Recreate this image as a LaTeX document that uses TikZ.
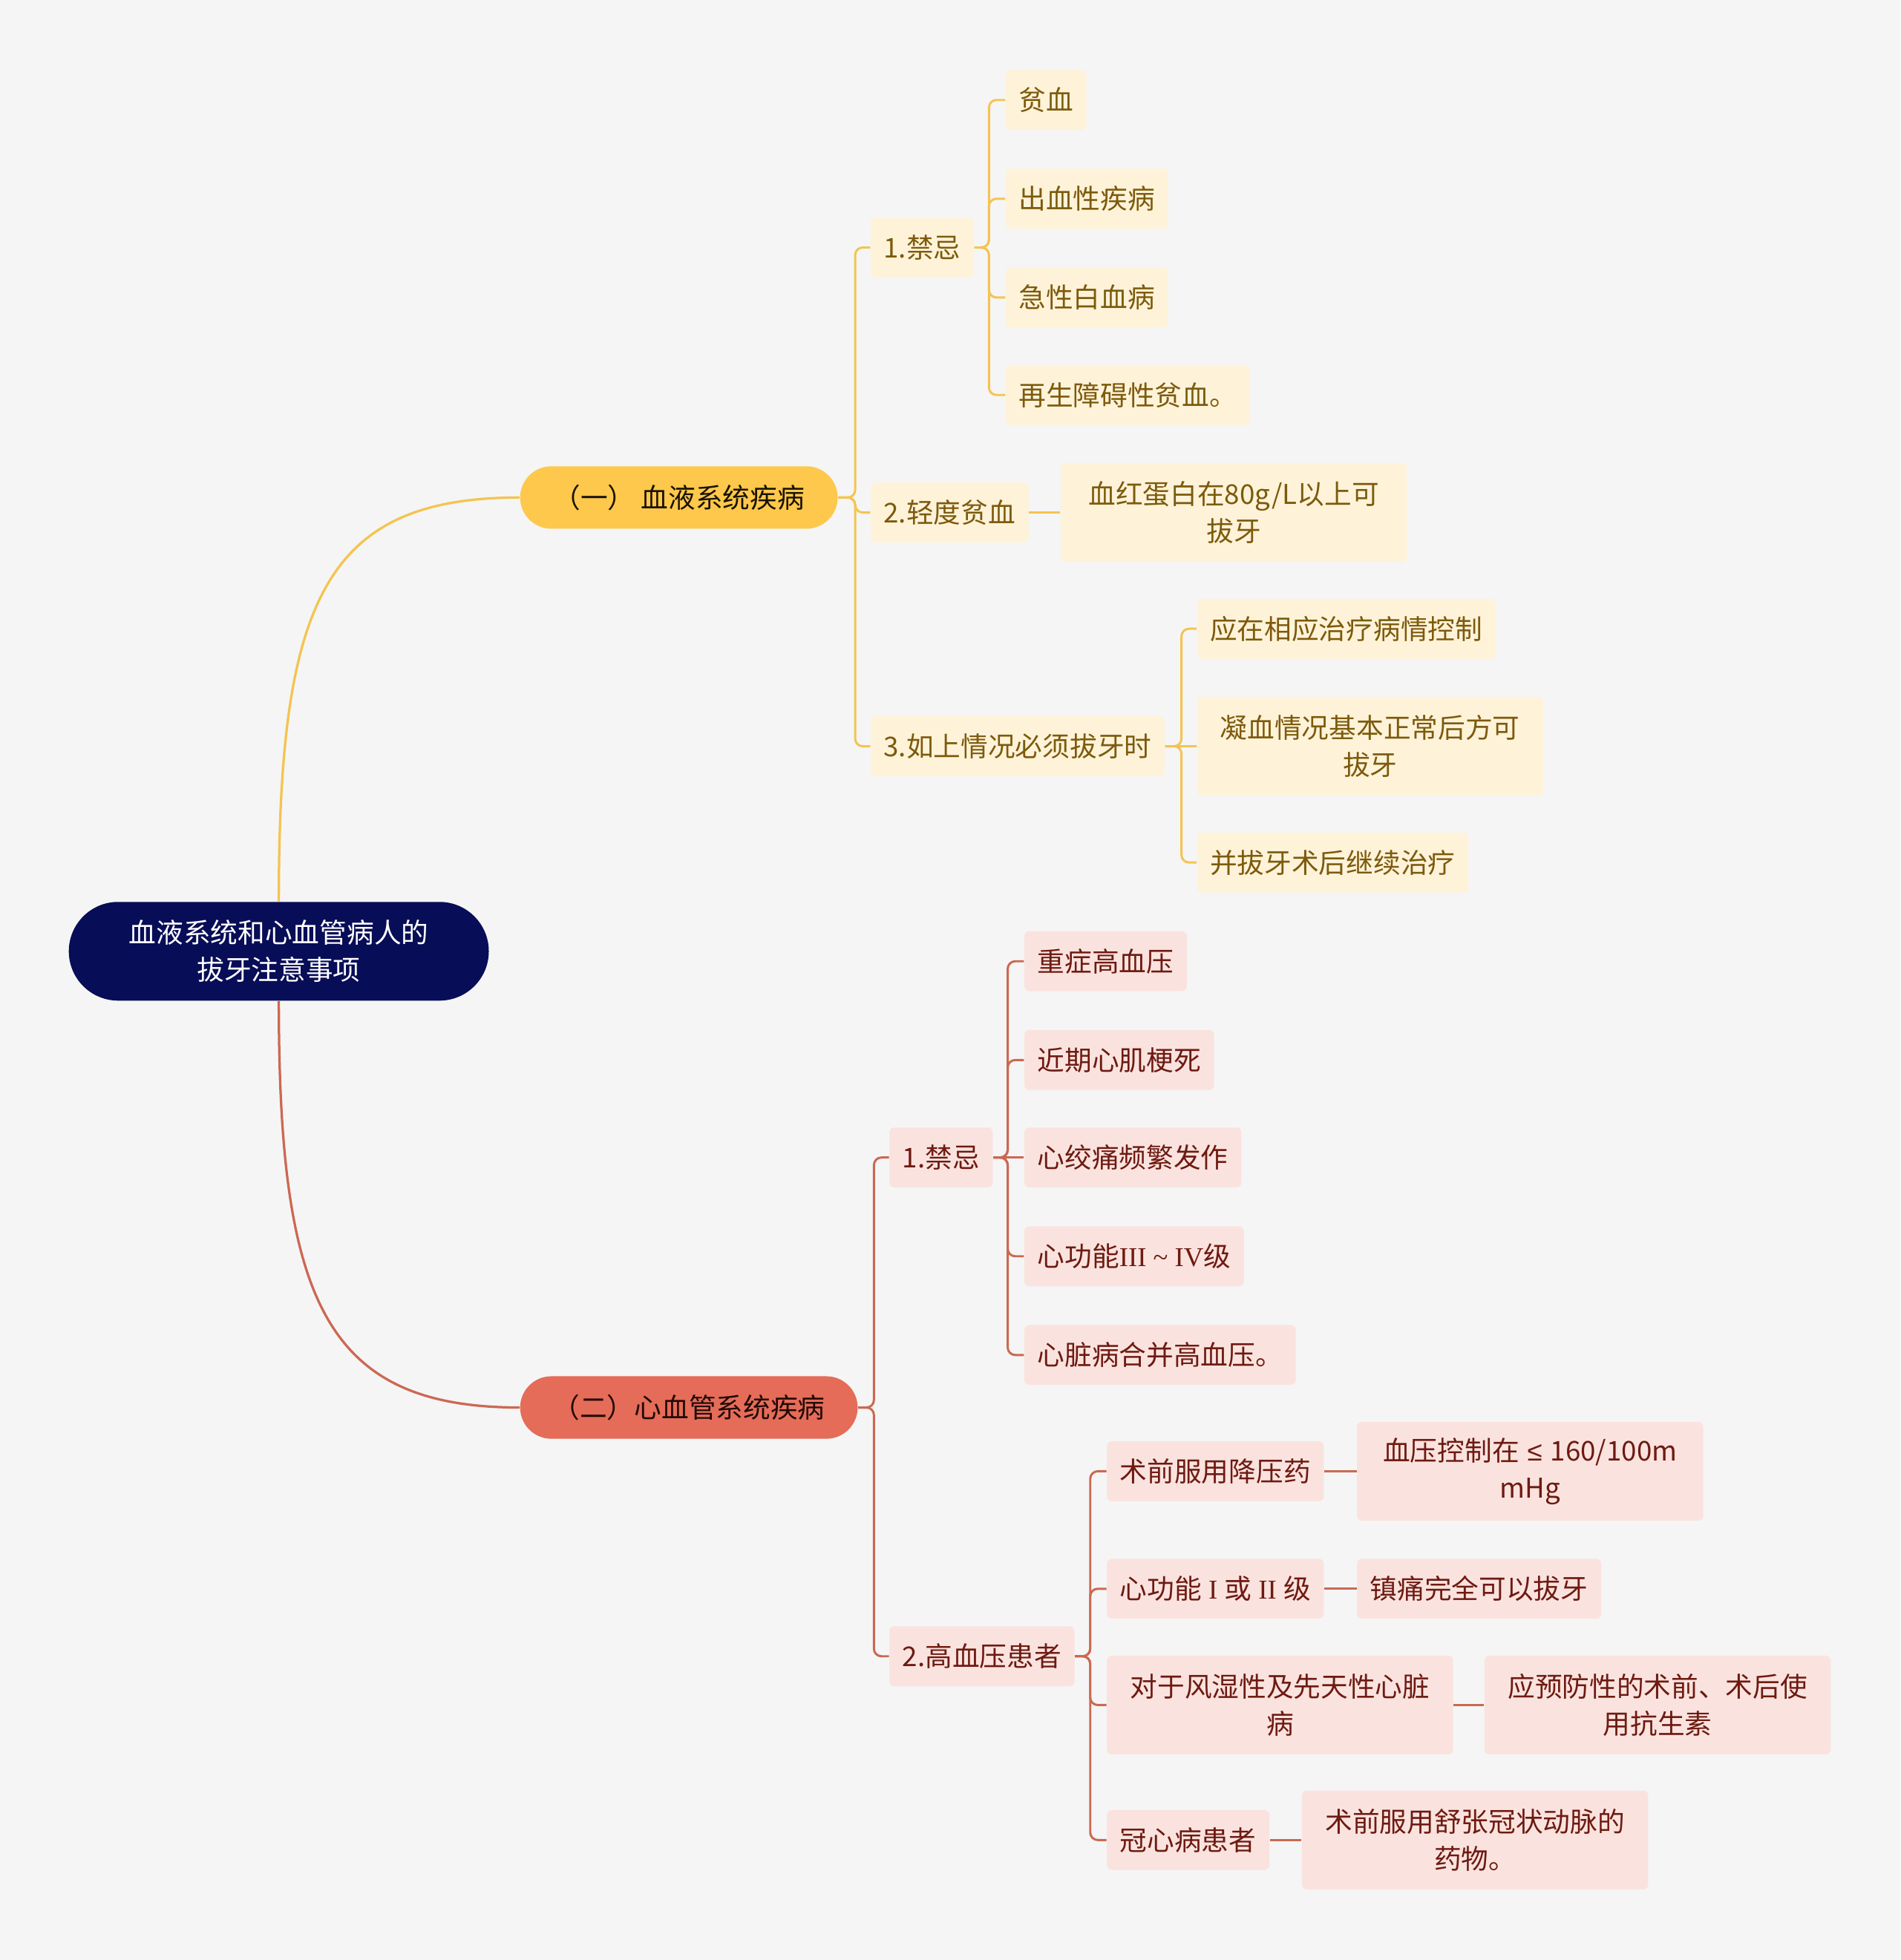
\documentclass[tikz,border=0pt]{standalone}
\usepackage{fontspec}
\setmainfont{Noto Sans CJK SC}
\newfontfamily\romf{Liberation Serif}
\newfontfamily\symf{Liberation Sans}
\usepackage{tikz}
\usetikzlibrary{positioning}

\definecolor{bgc}{HTML}{F5F5F5}
\definecolor{rootc}{HTML}{080D57}
\definecolor{ylw}{HTML}{FDC84B}
\definecolor{ylwline}{HTML}{F4C451}
\definecolor{ylwfill}{HTML}{FEF3D9}
\definecolor{ylwtext}{HTML}{7D5A0C}
\definecolor{salm}{HTML}{E46C58}
\definecolor{salmline}{HTML}{CC6852}
\definecolor{salmfill}{HTML}{FAE3DE}
\definecolor{salmtext}{HTML}{6E1A12}

\begin{document}
\begin{tikzpicture}[x=0.02cm, y=-0.02cm,
    every node/.style={font=\fontsize{12.4pt}{17pt}\selectfont, inner xsep=0.21cm, inner ysep=0pt, minimum height=0.96cm},
    rootbox/.style={fill=rootc, text=white, align=center, rounded corners=0.79cm, minimum width=6.72cm, minimum height=1.58cm},
    ybranch/.style={fill=ylw, text=black!80!ylwtext, rounded corners=0.5cm, minimum height=1cm},
    rbranch/.style={fill=salm, text=black!70!salmtext, rounded corners=0.5cm, minimum height=1cm},
    yleaf/.style={fill=ylwfill, text=ylwtext, rounded corners=0.08cm, anchor=west},
    rleaf/.style={fill=salmfill, text=salmtext, rounded corners=0.08cm, anchor=west},
    twoline/.style={align=center, minimum width=5.54cm, minimum height=1.58cm},
    yline/.style={draw=ylwline, line width=1pt, rounded corners=0.12cm},
    rline/.style={draw=salmline, line width=1pt, rounded corners=0.12cm}
    ]
\fill[bgc] (0,0) rectangle (1520,1568);
\useasboundingbox (0,0) rectangle (1520,1568);

% centre
\node[rootbox] (root) at (223,761) {血液系统和心血管病人的\\拔牙注意事项};

% first branch
\node[ybranch, minimum width=5.08cm] (b1) at (543,398) {（一） 血液系统疾病};
\node[yleaf] (y1) at (696,198) {1.禁忌};
\node[yleaf] (y2) at (696,410) {2.轻度贫血};
\node[yleaf] (y3) at (696,597) {3.如上情况必须拔牙时};
\node[yleaf] (y11) at (804,80) {贫血};
\node[yleaf] (y12) at (804,159) {出血性疾病};
\node[yleaf] (y13) at (804,238) {急性白血病};
\node[yleaf] (y14) at (804,316) {再生障碍性贫血。};
\node[yleaf, twoline] (y21) at (848,410) {血红蛋白在80g/L以上可\\拔牙};
\node[yleaf] (y31) at (957,503) {应在相应治疗病情控制};
\node[yleaf, twoline] (y32) at (957,597) {凝血情况基本正常后方可\\拔牙};
\node[yleaf] (y33) at (957,690) {并拔牙术后继续治疗};

% second branch
\node[rbranch, minimum width=5.4cm] (b2) at (551,1126) {（二）心血管系统疾病};
\node[rleaf] (r1) at (711,926) {1.禁忌};
\node[rleaf] (r2) at (711,1325) {2.高血压患者};
\node[rleaf] (r11) at (819,769) {重症高血压};
\node[rleaf] (r12) at (819,848) {近期心肌梗死};
\node[rleaf] (r13) at (819,926) {心绞痛频繁发作};
\node[rleaf] (r14) at (819,1005) {心功能{\romf III \textasciitilde\ IV}级};
\node[rleaf] (r15) at (819,1084) {心脏病合并高血压。};
\node[rleaf] (r21) at (885,1177) {术前服用降压药};
\node[rleaf] (r22) at (885,1271) {心功能{\romf\hspace{0.25em}I\hspace{0.25em}}或{\romf\hspace{0.25em}II\hspace{0.25em}}级};
\node[rleaf, twoline] (r23) at (885,1364) {对于风湿性及先天性心脏\\病};
\node[rleaf] (r24) at (885,1472) {冠心病患者};
\node[rleaf, twoline] (r21n) at (1085,1177) {血压控制在\hspace{0.3em}{\symf ≤}\hspace{0.3em}160/100m\\mHg};
\node[rleaf] (r22n) at (1085,1271) {镇痛完全可以拔牙};
\node[rleaf, twoline] (r23n) at (1187,1364) {应预防性的术前、术后使\\用抗生素};
\node[rleaf, twoline] (r24n) at (1041,1472) {术前服用舒张冠状动脉的\\药物。};

% trunks
\coordinate (tb1) at (684,0);
\coordinate (ty1) at (791,0);
\coordinate (ty3) at (945,0);
\coordinate (tb2) at (699,0);
\coordinate (tr1) at (806,0);
\coordinate (tr2) at (872,0);

% connectors
\draw[ylwline, line width=1.1pt] (root.north) .. controls (223,480) and (260,398) .. (b1.west);
\draw[salmline, line width=1.1pt] (root.south) .. controls (223,1040) and (260,1126) .. (b2.west);

\foreach \c in {y1,y2,y3}
  \draw[yline] (b1.east) -- (tb1 |- b1.east) |- (\c.west);
\foreach \c in {y11,y12,y13,y14}
  \draw[yline] (y1.east) -- (ty1 |- y1.east) |- (\c.west);
\draw[yline] (y2.east) -- (y21.west);
\foreach \c in {y31,y33}
  \draw[yline] (y3.east) -- (ty3 |- y3.east) |- (\c.west);
\draw[yline] (y3.east) -- (y32.west);

\foreach \c in {r1,r2}
  \draw[rline] (b2.east) -- (tb2 |- b2.east) |- (\c.west);
\foreach \c in {r11,r12,r14,r15}
  \draw[rline] (r1.east) -- (tr1 |- r1.east) |- (\c.west);
\draw[rline] (r1.east) -- (r13.west);
\foreach \c in {r21,r22,r23,r24}
  \draw[rline] (r2.east) -- (tr2 |- r2.east) |- (\c.west);
\foreach \a in {r21,r22,r23,r24}
  \draw[rline] (\a.east) -- (\a n.west);
\end{tikzpicture}
\end{document}
